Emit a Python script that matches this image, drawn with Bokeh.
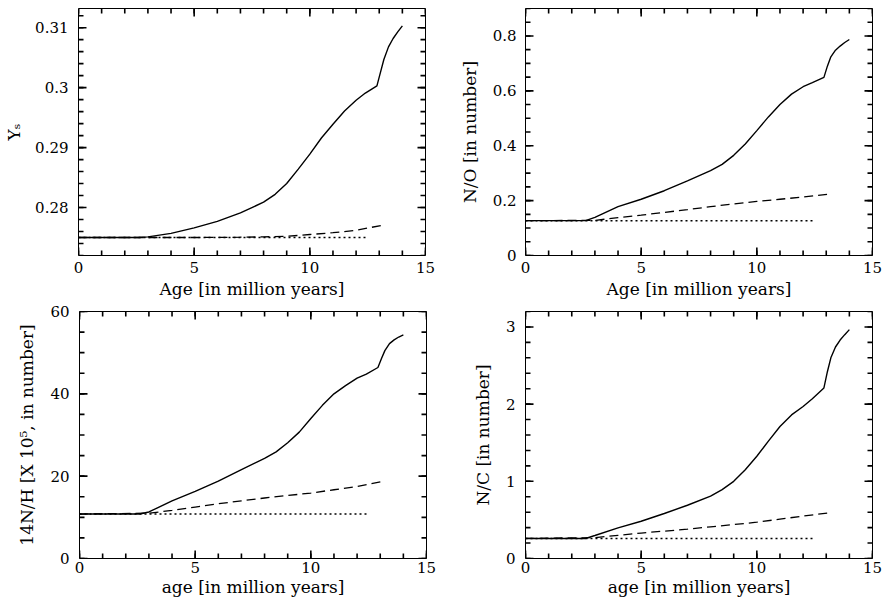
import numpy as np
from bokeh.plotting import figure
from bokeh.layouts import column, row
from bokeh.models import LinearAxis, FixedTicker, CustomJSTickFormatter, Range1d, ColumnDataSource
from bokeh.embed import file_html
from bokeh.resources import INLINE

# ---------------- data ----------------
age_solid = [0, 2.6, 3, 4, 5, 6, 7, 8, 8.5, 9, 9.5, 10, 10.5, 11, 11.5, 12, 12.4,
             12.9, 13.05, 13.2, 13.4, 13.6, 13.8, 14.0]
age_dash = [0, 3, 4, 5, 6, 7, 8, 9, 10, 11, 12, 13.2]
age_dot = [0, 12.5]

ys_solid = [0.275, 0.275, 0.2751, 0.2757, 0.2766, 0.2777, 0.2791, 0.2809, 0.2822, 0.2840,
            0.2864, 0.2889, 0.2916, 0.2939, 0.2961, 0.2979, 0.2991, 0.3003, 0.3025,
            0.3047, 0.3068, 0.3082, 0.3093, 0.3103]
ys_dash = [0.275, 0.275, 0.275, 0.275, 0.27502, 0.27505, 0.2751, 0.2752, 0.2755,
           0.2758, 0.2762, 0.2771]
ys_dot = [0.275, 0.275]

no_solid = [0.127, 0.127, 0.139, 0.178, 0.205, 0.236, 0.272, 0.309, 0.332, 0.365, 0.406,
            0.455, 0.505, 0.550, 0.588, 0.615, 0.630, 0.649, 0.690, 0.724, 0.748, 0.763,
            0.776, 0.787]
no_dash = [0.127, 0.128, 0.138, 0.147, 0.157, 0.167, 0.178, 0.188, 0.197, 0.205, 0.213, 0.224]
no_dot = [0.127, 0.127]

nh_solid = [10.8, 10.8, 11.3, 14.0, 16.3, 18.8, 21.6, 24.3, 25.9, 28.1, 30.7, 34.0, 37.2,
            40.0, 42.0, 43.8, 44.8, 46.4, 48.5, 50.5, 52.2, 53.1, 53.8, 54.3]
nh_dash = [10.8, 11.0, 11.7, 12.5, 13.3, 14.0, 14.7, 15.3, 15.9, 16.7, 17.5, 18.8]
nh_dot = [10.8, 10.8]

nc_solid = [0.26, 0.26, 0.298, 0.397, 0.483, 0.583, 0.69, 0.807, 0.893, 1.0, 1.15, 1.325,
            1.52, 1.71, 1.86, 1.97, 2.07, 2.21, 2.42, 2.6, 2.74, 2.83, 2.9, 2.965]
nc_dash = [0.26, 0.27, 0.30, 0.33, 0.355, 0.38, 0.41, 0.44, 0.47, 0.51, 0.55, 0.595]
nc_dot = [0.26, 0.26]

x_labels = ["Age [in million years]", "Age [in million years]",
            "age [in million years]", "age [in million years]"]
y_labels = ["Y\u209b", "N/O [in number]", "14N/H [X 10\u2075, in number]", "N/C [in number]"]

# tick values (major labelled ticks and minor tick steps)
x_major = [0.0, 5.0, 10.0, 15.0]
x_minor_step = 1.0
ys_major = [0.28, 0.29, 0.30, 0.31]
no_major = [0.0, 0.2, 0.4, 0.6, 0.8]
nh_major = [0.0, 20.0, 40.0, 60.0]
nc_major = [0.0, 1.0, 2.0, 3.0]

FONT = "DejaVu Serif"
FRAME_W, FRAME_H = 347, 247


def make_panel(ylab, xlab, yr, ymajor, ystep, solid, dash, dot,
               bl, br, bt, bb, ystand, ylstand, xstand, xlstand):
    w = bl + FRAME_W + br
    h = bt + FRAME_H + bb
    p = figure(width=w, height=h, output_backend="svg", toolbar_location=None,
               x_range=Range1d(0, 15), y_range=Range1d(*yr),
               x_axis_location=None, y_axis_location=None,
               min_border_left=bl, min_border_right=br,
               min_border_top=bt, min_border_bottom=bb)
    p.outline_line_color = "black"
    p.outline_line_width = 1
    p.xgrid.visible = False
    p.ygrid.visible = False
    p.background_fill_color = "white"
    p.border_fill_color = "white"

    fmt = CustomJSTickFormatter(code="return String(Number(tick.toFixed(4)));")

    def style(ax):
        ax.major_tick_in = 0
        ax.major_tick_out = 0
        ax.minor_tick_in = 0
        ax.minor_tick_out = 0
        ax.axis_line_color = None
        ax.major_label_text_font = FONT
        ax.major_label_text_font_size = "15px"
        ax.major_label_text_color = "black"
        ax.axis_label_text_font = FONT
        ax.axis_label_text_font_size = "17px"
        ax.axis_label_text_font_style = "normal"
        ax.axis_label_text_color = "black"
        ax.formatter = fmt

    xb = LinearAxis(ticker=FixedTicker(ticks=x_major), axis_label=xlab)
    style(xb)
    xb.major_label_standoff = xstand
    xb.axis_label_standoff = xlstand
    p.add_layout(xb, "below")

    yl = LinearAxis(ticker=FixedTicker(ticks=ymajor), axis_label=ylab)
    style(yl)
    yl.major_label_standoff = ystand
    yl.axis_label_standoff = ylstand
    p.add_layout(yl, "left")

    # inward tick marks on all four sides (lengths converted from pixels)
    x0, x1 = 0.0, 15.0
    y0, y1 = float(yr[0]), float(yr[1])
    dx = (x1 - x0) / FRAME_W
    dy = (y1 - y0) / FRAME_H
    x_minor = [float(v) for v in np.arange(x0, x1 + 1e-9, x_minor_step)]
    y_minor = [float(v) for v in
               np.arange(np.ceil(y0 / ystep - 1e-6) * ystep, y1 + 1e-9, ystep)]
    tx0, ty0, tx1, ty1 = [], [], [], []
    for xs, ln in ((x_minor, 5), (x_major, 8)):
        for v in xs:
            tx0 += [v, v]; tx1 += [v, v]
            ty0 += [y0, y1]; ty1 += [y0 + ln * dy, y1 - ln * dy]
    for ys, ln in ((y_minor, 5), (ymajor, 8)):
        for v in ys:
            tx0 += [x0, x1]; tx1 += [x0 + ln * dx, x1 - ln * dx]
            ty0 += [v, v]; ty1 += [v, v]
    src = ColumnDataSource(dict(tx0=tx0, ty0=ty0, tx1=tx1, ty1=ty1))
    p.segment(x0="tx0", y0="ty0", x1="tx1", y1="ty1", source=src,
              line_color="black", line_width=1.6)

    p.line(age_solid, solid, line_color="black", line_width=1.4)
    p.line(age_dash, dash, line_color="black", line_width=1.3, line_dash="9 5")
    p.line(age_dot, dot, line_color="black", line_width=1.5, line_dash="2 3")
    return p


p1 = make_panel(y_labels[0], x_labels[0], (0.272, 0.3132), ys_major, 0.002,
                ys_solid, ys_dash, ys_dot, 78, 18, 8, 47, 10, 8, 6, 3)
p2 = make_panel(y_labels[1], x_labels[1], (0, 0.9), no_major, 0.05,
                no_solid, no_dash, no_dot, 82, 14, 8, 47, 9, 10, 6, 3)
p3 = make_panel(y_labels[2], x_labels[2], (0, 60), nh_major, 5,
                nh_solid, nh_dash, nh_dot, 79, 17, 9, 46, 10, 10, 3, 1)
p4 = make_panel(y_labels[3], x_labels[3], (0, 3.2), nc_major, 0.2,
                nc_solid, nc_dash, nc_dot, 82, 14, 9, 46, 10, 10, 3, 1)

layout = column(row(p1, p2), row(p3, p4))
open("out.html", "w").write(file_html(layout, INLINE))
